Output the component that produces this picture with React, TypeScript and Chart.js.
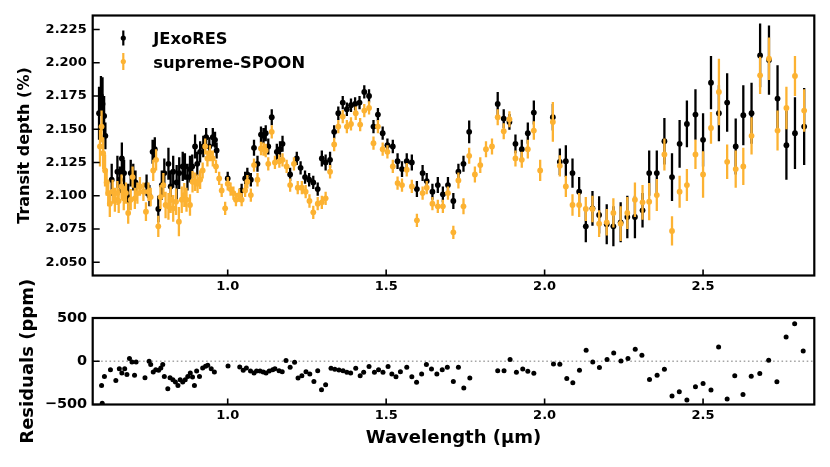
import React, { useEffect, useRef } from 'react';
import { Chart, registerables } from 'chart.js';

Chart.register(...registerables);

const FONT = "'DejaVu Sans', sans-serif";

// axis ranges and ticks
const X_MIN = 0.574;
const X_MAX = 2.851;
const X_TICKS = [1.0, 1.5, 2.0, 2.5];
const DEPTH_MIN = 2.04;
const DEPTH_MAX = 2.2355;
const DEPTH_TICKS = [2.05, 2.075, 2.1, 2.125, 2.15, 2.175, 2.2, 2.225];
const RES_MIN = -500;
const RES_MAX = 500;
const RES_TICKS = [-500, 0, 500];
const RES_ZERO = 0;

const SERIES_LABELS = ['JExoRES', 'supreme-SPOON'];

// [wavelength (um), transit depth (%), error (%)]
const JEXORES: [number, number, number][] = [
  [0.594, 2.162, 0.02], [0.6, 2.175, 0.015], [0.605, 2.169, 0.02], [0.61, 2.16, 0.015], [0.614, 2.145, 0.01],
  [0.634, 2.112, 0.012], [0.652, 2.118, 0.012], [0.66, 2.112, 0.01], [0.666, 2.128, 0.012], [0.673, 2.117, 0.01],
  [0.686, 2.099, 0.01], [0.694, 2.117, 0.01], [0.702, 2.114, 0.01], [0.709, 2.11, 0.009], [0.744, 2.108, 0.008],
  [0.753, 2.1, 0.008], [0.763, 2.133, 0.009], [0.77, 2.135, 0.009], [0.781, 2.09, 0.01], [0.792, 2.108, 0.011],
  [0.8, 2.117, 0.011], [0.813, 2.124, 0.012], [0.82, 2.107, 0.012], [0.828, 2.118, 0.012], [0.839, 2.11, 0.013],
  [0.847, 2.117, 0.012], [0.858, 2.122, 0.011], [0.865, 2.122, 0.01], [0.873, 2.114, 0.01], [0.881, 2.12, 0.01],
  [0.888, 2.122, 0.009], [0.897, 2.137, 0.009], [0.904, 2.124, 0.009], [0.913, 2.133, 0.008], [0.923, 2.137, 0.008],
  [0.932, 2.144, 0.007], [0.942, 2.137, 0.007], [0.953, 2.144, 0.007], [0.96, 2.142, 0.006], [0.965, 2.134, 0.006],
  [1.0, 2.113, 0.005], [1.044, 2.104, 0.005], [1.055, 2.113, 0.005], [1.062, 2.116, 0.005], [1.073, 2.112, 0.005],
  [1.083, 2.136, 0.006], [1.094, 2.124, 0.006], [1.105, 2.146, 0.006], [1.113, 2.145, 0.006], [1.12, 2.147, 0.006],
  [1.128, 2.137, 0.006], [1.139, 2.159, 0.006], [1.155, 2.133, 0.006], [1.165, 2.135, 0.006], [1.173, 2.139, 0.006],
  [1.197, 2.116, 0.005], [1.218, 2.128, 0.005], [1.23, 2.121, 0.005], [1.244, 2.114, 0.005], [1.257, 2.112, 0.005],
  [1.27, 2.11, 0.005], [1.284, 2.105, 0.005], [1.297, 2.128, 0.006], [1.309, 2.125, 0.006], [1.323, 2.127, 0.006],
  [1.336, 2.148, 0.005], [1.349, 2.162, 0.005], [1.363, 2.17, 0.005], [1.376, 2.165, 0.005], [1.389, 2.168, 0.005],
  [1.402, 2.169, 0.005], [1.416, 2.17, 0.005], [1.431, 2.178, 0.005], [1.446, 2.175, 0.005], [1.46, 2.152, 0.005],
  [1.474, 2.161, 0.005], [1.489, 2.147, 0.005], [1.504, 2.138, 0.005], [1.521, 2.137, 0.005], [1.536, 2.126, 0.006],
  [1.55, 2.12, 0.006], [1.565, 2.126, 0.006], [1.581, 2.125, 0.006], [1.597, 2.105, 0.006], [1.615, 2.117, 0.006],
  [1.628, 2.111, 0.006], [1.646, 2.103, 0.006], [1.663, 2.108, 0.006], [1.679, 2.101, 0.006], [1.695, 2.108, 0.006],
  [1.712, 2.096, 0.006], [1.728, 2.118, 0.006], [1.744, 2.124, 0.006], [1.762, 2.148, 0.0085], [1.852, 2.169, 0.009],
  [1.871, 2.158, 0.007], [1.889, 2.1555, 0.006], [1.908, 2.139, 0.007], [1.928, 2.135, 0.007], [1.947, 2.147, 0.008],
  [1.966, 2.1625, 0.009], [2.026, 2.159, 0.01], [2.048, 2.1255, 0.01], [2.067, 2.126, 0.012], [2.088, 2.117, 0.011],
  [2.109, 2.103, 0.011], [2.13, 2.077, 0.012], [2.151, 2.0905, 0.013], [2.172, 2.0855, 0.014], [2.196, 2.0785, 0.015],
  [2.217, 2.077, 0.015], [2.24, 2.08, 0.015], [2.261, 2.084, 0.016], [2.285, 2.084, 0.016], [2.309, 2.089, 0.013],
  [2.33, 2.117, 0.017], [2.354, 2.117, 0.017], [2.378, 2.141, 0.0175], [2.402, 2.114, 0.018], [2.426, 2.139, 0.018],
  [2.449, 2.154, 0.0175], [2.476, 2.161, 0.019], [2.5, 2.142, 0.02], [2.525, 2.185, 0.02], [2.55, 2.162, 0.021],
  [2.576, 2.17, 0.022], [2.603, 2.137, 0.021], [2.627, 2.1605, 0.0225], [2.653, 2.162, 0.023], [2.68, 2.2055, 0.024],
  [2.708, 2.202, 0.026], [2.735, 2.173, 0.025], [2.763, 2.138, 0.026], [2.79, 2.147, 0.027], [2.819, 2.152, 0.029],
];

const SPOON: [number, number, number][] = [
  [0.597, 2.137, 0.015], [0.602, 2.152, 0.012], [0.607, 2.132, 0.012], [0.613, 2.119, 0.012], [0.618, 2.11, 0.01],
  [0.623, 2.102, 0.01], [0.628, 2.094, 0.01], [0.637, 2.103, 0.009], [0.644, 2.097, 0.009], [0.652, 2.102, 0.009],
  [0.656, 2.096, 0.009], [0.665, 2.107, 0.009], [0.672, 2.098, 0.009], [0.679, 2.102, 0.008], [0.686, 2.087, 0.008],
  [0.694, 2.097, 0.008], [0.7, 2.114, 0.008], [0.707, 2.098, 0.008], [0.715, 2.102, 0.008], [0.723, 2.107, 0.007],
  [0.734, 2.103, 0.007], [0.742, 2.088, 0.007], [0.75, 2.103, 0.007], [0.757, 2.099, 0.007], [0.765, 2.119, 0.008],
  [0.774, 2.127, 0.008], [0.781, 2.077, 0.008], [0.788, 2.099, 0.009], [0.797, 2.108, 0.009], [0.804, 2.093, 0.01],
  [0.813, 2.092, 0.01], [0.82, 2.097, 0.01], [0.828, 2.0905, 0.01], [0.837, 2.0955, 0.01], [0.846, 2.0805, 0.011],
  [0.855, 2.097, 0.01], [0.863, 2.1005, 0.009], [0.87, 2.097, 0.009], [0.881, 2.093, 0.008], [0.889, 2.1105, 0.008],
  [0.897, 2.1105, 0.007], [0.905, 2.109, 0.007], [0.913, 2.112, 0.007], [0.921, 2.119, 0.006], [0.929, 2.137, 0.006],
  [0.936, 2.128, 0.006], [0.944, 2.132, 0.006], [0.953, 2.128, 0.006], [0.963, 2.122, 0.005], [0.973, 2.113, 0.005],
  [0.981, 2.104, 0.005], [0.992, 2.0905, 0.005], [1.0, 2.109, 0.005], [1.009, 2.105, 0.005], [1.018, 2.102, 0.005],
  [1.026, 2.097, 0.005], [1.036, 2.1005, 0.005], [1.044, 2.097, 0.005], [1.055, 2.104, 0.005], [1.062, 2.1105, 0.005],
  [1.073, 2.1005, 0.005], [1.083, 2.123, 0.005], [1.094, 2.112, 0.005], [1.105, 2.1355, 0.005], [1.113, 2.135, 0.005],
  [1.12, 2.134, 0.005], [1.128, 2.124, 0.005], [1.139, 2.148, 0.005], [1.149, 2.125, 0.005], [1.163, 2.126, 0.005],
  [1.173, 2.127, 0.005], [1.186, 2.122, 0.005], [1.197, 2.108, 0.005], [1.209, 2.124, 0.005], [1.221, 2.106, 0.005],
  [1.234, 2.106, 0.005], [1.246, 2.103, 0.005], [1.258, 2.096, 0.005], [1.27, 2.0875, 0.005], [1.284, 2.094, 0.005],
  [1.297, 2.095, 0.005], [1.309, 2.098, 0.005], [1.323, 2.118, 0.005], [1.336, 2.1385, 0.005], [1.349, 2.152, 0.005],
  [1.363, 2.1595, 0.005], [1.376, 2.152, 0.005], [1.389, 2.154, 0.005], [1.404, 2.162, 0.005], [1.418, 2.1535, 0.005],
  [1.431, 2.164, 0.005], [1.446, 2.166, 0.005], [1.46, 2.1395, 0.005], [1.474, 2.152, 0.005], [1.489, 2.135, 0.005],
  [1.504, 2.133, 0.005], [1.521, 2.122, 0.005], [1.536, 2.1095, 0.005], [1.55, 2.108, 0.005], [1.565, 2.1195, 0.005],
  [1.581, 2.107, 0.005], [1.597, 2.0815, 0.005], [1.615, 2.102, 0.005], [1.628, 2.106, 0.005], [1.646, 2.094, 0.005],
  [1.663, 2.092, 0.005], [1.679, 2.092, 0.005], [1.695, 2.102, 0.005], [1.712, 2.0725, 0.005], [1.728, 2.1115, 0.006],
  [1.744, 2.092, 0.006], [1.762, 2.13, 0.006], [1.78, 2.116, 0.006], [1.797, 2.123, 0.006], [1.815, 2.135, 0.006],
  [1.834, 2.137, 0.006], [1.852, 2.159, 0.006], [1.871, 2.1485, 0.006], [1.889, 2.1575, 0.006], [1.908, 2.128, 0.006],
  [1.928, 2.127, 0.006], [1.947, 2.135, 0.007], [1.966, 2.149, 0.007], [1.986, 2.119, 0.008], [2.026, 2.1555, 0.015],
  [2.048, 2.1225, 0.008], [2.067, 2.107, 0.008], [2.088, 2.093, 0.008], [2.109, 2.093, 0.009], [2.13, 2.09, 0.009],
  [2.151, 2.09, 0.01], [2.172, 2.079, 0.01], [2.196, 2.08, 0.01], [2.217, 2.087, 0.011], [2.24, 2.079, 0.013],
  [2.261, 2.087, 0.012], [2.285, 2.097, 0.013], [2.309, 2.095, 0.013], [2.33, 2.0955, 0.014], [2.354, 2.1005, 0.012],
  [2.378, 2.131, 0.012], [2.402, 2.0735, 0.011], [2.426, 2.103, 0.012], [2.449, 2.108, 0.012], [2.476, 2.131, 0.011],
  [2.5, 2.116, 0.0175], [2.525, 2.151, 0.012], [2.55, 2.178, 0.025], [2.576, 2.1255, 0.013], [2.603, 2.12, 0.014],
  [2.627, 2.122, 0.014], [2.653, 2.145, 0.014], [2.68, 2.1905, 0.014], [2.708, 2.203, 0.016], [2.735, 2.149, 0.015],
  [2.763, 2.166, 0.016], [2.79, 2.19, 0.015], [2.819, 2.164, 0.016],
];

// [wavelength (um), residual (ppm)]
const RESIDUALS: [number, number][] = [
  [0.602, -280], [0.604, -486], [0.611, -175], [0.63, -97], [0.647, -222], [0.658, -86], [0.666, -136], [0.675, -86],
  [0.682, -152], [0.69, 31], [0.698, -8], [0.706, -163], [0.711, -8], [0.739, -191], [0.752, 0], [0.757, -39],
  [0.765, -124], [0.773, -97], [0.782, -105], [0.789, -78], [0.795, -39], [0.8, -175], [0.811, -319], [0.818, -191],
  [0.827, -214], [0.835, -241], [0.843, -280], [0.85, -214], [0.858, -241], [0.866, -214], [0.874, -175], [0.882, -136],
  [0.889, -183], [0.895, -280], [0.902, -113], [0.911, -175], [0.921, -78], [0.93, -58], [0.937, -47], [0.948, -86],
  [0.958, -124], [1.001, -54], [1.038, -66], [1.049, -105], [1.059, -78], [1.072, -113], [1.083, -136], [1.091, -113],
  [1.102, -113], [1.112, -124], [1.121, -136], [1.131, -113], [1.142, -97], [1.149, -86], [1.162, -110], [1.172, -120],
  [1.184, 8], [1.197, -70], [1.211, -12], [1.222, -194], [1.234, -167], [1.247, -120], [1.259, -147], [1.272, -233],
  [1.284, -109], [1.296, -329], [1.309, -271], [1.326, -81], [1.338, -93], [1.351, -101], [1.364, -109], [1.376, -128],
  [1.388, -136], [1.404, -81], [1.418, -167], [1.429, -128], [1.446, -62], [1.463, -128], [1.476, -97], [1.49, -128],
  [1.506, -62], [1.518, -147], [1.531, -178], [1.545, -120], [1.565, -70], [1.581, -178], [1.596, -244], [1.612, -147],
  [1.627, -39], [1.643, -89], [1.66, -147], [1.677, -97], [1.693, -70], [1.712, -233], [1.728, -70], [1.745, -310],
  [1.764, -194], [1.852, -109], [1.872, -109], [1.891, 19], [1.911, -128], [1.931, -89], [1.947, -116], [1.966, -140],
  [2.028, -31], [2.048, -35], [2.07, -199], [2.089, -249], [2.11, -103], [2.131, 126], [2.152, -8], [2.173, -73],
  [2.197, 19], [2.218, 96], [2.241, 4], [2.263, 31], [2.286, 138], [2.307, 69], [2.331, -211], [2.355, -161],
  [2.378, -92], [2.402, -402], [2.425, -352], [2.449, -448], [2.476, -295], [2.5, -257], [2.525, -333], [2.549, 165],
  [2.576, -437], [2.6, -169], [2.626, -383], [2.652, -172], [2.679, -142], [2.707, 11], [2.733, -237], [2.762, 280],
  [2.789, 433], [2.816, 119],
];

const BLACK = '#000000';
const ORANGE = '#fcb232';

const errorBarsPlugin = {
  id: 'errorBars',
  beforeDatasetDraw(chart: any, args: any) {
    const ds = chart.data.datasets[args.index];
    if (!ds.errors) return;
    const { ctx, chartArea: a } = chart;
    const xs = chart.scales.x;
    const ys = chart.scales.y;
    ctx.save();
    ctx.beginPath();
    ctx.rect(a.left, a.top, a.right - a.left, a.bottom - a.top);
    ctx.clip();
    ctx.strokeStyle = ds.errorColor;
    ctx.lineWidth = ds.errorWidth;
    ctx.lineCap = 'butt';
    ctx.beginPath();
    ds.data.forEach((p: any, i: number) => {
      const e = ds.errors[i];
      const px = xs.getPixelForValue(p.x);
      ctx.moveTo(px, ys.getPixelForValue(p.y - e));
      ctx.lineTo(px, ys.getPixelForValue(p.y + e));
    });
    ctx.stroke();
    ctx.restore();
  },
};

const framePlugin = {
  id: 'frameTicks',
  afterDatasetsDraw(chart: any) {
    const { ctx, chartArea: a } = chart;
    const xs = chart.scales.x;
    const ys = chart.scales.y;
    ctx.save();
    ctx.strokeStyle = '#000';
    ctx.lineWidth = 1.6;
    ctx.beginPath();
    xs.ticks.forEach((t: any) => {
      const px = xs.getPixelForValue(t.value);
      ctx.moveTo(px, a.bottom);
      ctx.lineTo(px, a.bottom - 6);
    });
    ys.ticks.forEach((t: any) => {
      const py = ys.getPixelForValue(t.value);
      ctx.moveTo(a.left, py);
      ctx.lineTo(a.left + 7, py);
    });
    ctx.stroke();
    ctx.lineWidth = 2.2;
    ctx.strokeRect(a.left, a.top, a.right - a.left, a.bottom - a.top);
    ctx.restore();
  },
};

const legendPlugin = {
  id: 'errLegend',
  afterDraw(chart: any) {
    const opts = chart.options.plugins.errLegend;
    if (!opts || !opts.show) return;
    const { ctx, chartArea: a } = chart;
    ctx.save();
    chart.data.datasets.forEach((ds: any, i: number) => {
      if (!ds.label) return;
      const cx = a.left + 30.6;
      const cy = a.top + 22.5 + i * 23.5;
      ctx.strokeStyle = ds.errorColor;
      ctx.lineWidth = 2.2;
      ctx.beginPath();
      ctx.moveTo(cx, cy - 7.5 - i);
      ctx.lineTo(cx, cy + 7.5 + i);
      ctx.stroke();
      ctx.fillStyle = ds.backgroundColor;
      ctx.beginPath();
      ctx.arc(cx, cy, 2.6, 0, Math.PI * 2);
      ctx.fill();
      ctx.fillStyle = '#000';
      ctx.font = `bold 16.3px ${FONT}`;
      ctx.textAlign = 'left';
      ctx.textBaseline = 'alphabetic';
      ctx.fillText(ds.label, a.left + 60.6, a.top + 28.8 + i * 24);
    });
    ctx.restore();
  },
};

const tickFont = (size: number) => ({ family: FONT, size, weight: 'bold' as const });

function fixTicks(values: number[]) {
  return (scale: any) => {
    scale.ticks = values.map((v) => ({ value: v }));
  };
}

const NO_GRID = { display: false, drawTicks: false, tickLength: 0 };

export default function App() {
  const topRef = useRef<HTMLCanvasElement>(null);
  const botRef = useRef<HTMLCanvasElement>(null);

  useEffect(() => {
    const top = new Chart(topRef.current as HTMLCanvasElement, {
      type: 'scatter',
      data: {
        datasets: [
          {
            label: SERIES_LABELS[0],
            data: JEXORES.map(([x, y]) => ({ x, y })),
            errors: JEXORES.map((p) => p[2]),
            errorColor: BLACK,
            errorWidth: 2.3,
            backgroundColor: BLACK,
            borderWidth: 0,
            pointRadius: 2.9,
            order: 2,
          } as any,
          {
            label: SERIES_LABELS[1],
            data: SPOON.map(([x, y]) => ({ x, y })),
            errors: SPOON.map((p) => p[2]),
            errorColor: ORANGE,
            errorWidth: 2.3,
            backgroundColor: ORANGE,
            borderWidth: 0,
            pointRadius: 2.9,
            order: 1,
          } as any,
        ],
      },
      options: {
        animation: false,
        responsive: false,
        events: [],
        layout: { padding: { left: 0, right: 15.7, top: 15.5, bottom: 0 } },
        plugins: {
          legend: { display: false },
          tooltip: { enabled: false },
          errLegend: { show: true },
        } as any,
        scales: {
          x: {
            type: 'linear',
            min: X_MIN,
            max: X_MAX,
            afterBuildTicks: fixTicks(X_TICKS),
            afterFit: (s: any) => {
              s.height = 24.5;
            },
            grid: NO_GRID,
            border: { display: false },
            ticks: {
              font: tickFont(13),
              color: '#000',
              padding: 3,
              maxRotation: 0,
              autoSkip: false,
              callback: (v: any) => Number(v).toFixed(1),
            },
          },
          y: {
            type: 'linear',
            min: DEPTH_MIN,
            max: DEPTH_MAX,
            afterBuildTicks: fixTicks(DEPTH_TICKS),
            afterFit: (s: any) => {
              s.width = 92.7;
            },
            grid: NO_GRID,
            border: { display: false },
            ticks: {
              font: tickFont(13),
              color: '#000',
              padding: 6,
              autoSkip: false,
              callback: (v: any) => Number(v).toFixed(3),
            },
            title: {
              display: true,
              text: 'Transit depth (%)',
              color: '#000',
              font: { family: FONT, size: 16, weight: 'bold' },
              padding: { top: 15, bottom: 0 },
            },
          },
        },
      },
      plugins: [errorBarsPlugin, framePlugin, legendPlugin],
    } as any);

    const bot = new Chart(botRef.current as HTMLCanvasElement, {
      type: 'scatter',
      data: {
        datasets: [
          {
            type: 'line',
            label: '',
            data: [
              { x: X_MIN, y: RES_ZERO },
              { x: X_MAX, y: RES_ZERO },
            ],
            borderColor: '#a6a6a6',
            borderWidth: 1.6,
            borderDash: [1.6, 2.6],
            pointRadius: 0,
            fill: false,
            order: 2,
          } as any,
          {
            label: 'Residuals',
            data: RESIDUALS.map(([x, y]) => ({ x, y })),
            backgroundColor: BLACK,
            borderWidth: 0,
            pointRadius: 2.5,
            order: 1,
          } as any,
        ],
      },
      options: {
        animation: false,
        responsive: false,
        events: [],
        layout: { padding: { left: 0, right: 15.7, top: 68, bottom: 0 } },
        plugins: {
          legend: { display: false },
          tooltip: { enabled: false },
        },
        scales: {
          x: {
            type: 'linear',
            min: X_MIN,
            max: X_MAX,
            afterBuildTicks: fixTicks(X_TICKS),
            afterFit: (s: any) => {
              s.height = 62.5;
            },
            grid: NO_GRID,
            border: { display: false },
            ticks: {
              font: tickFont(13),
              color: '#000',
              padding: 3,
              maxRotation: 0,
              autoSkip: false,
              callback: (v: any) => Number(v).toFixed(1),
            },
            title: {
              display: true,
              text: 'Wavelength (μm)',
              color: '#000',
              font: { family: FONT, size: 18, weight: 'bold' },
              padding: { top: 0, bottom: 17.5 },
            },
          },
          y: {
            type: 'linear',
            min: RES_MIN,
            max: RES_MAX,
            afterBuildTicks: fixTicks(RES_TICKS),
            afterFit: (s: any) => {
              s.width = 92.7;
            },
            grid: NO_GRID,
            border: { display: false },
            ticks: {
              font: tickFont(14.5),
              color: '#000',
              padding: 5.5,
              autoSkip: false,
              callback: (v: any) => (Number(v) < 0 ? '\u2212' + Math.abs(Number(v)) : String(v)),
            },
            title: {
              display: true,
              text: 'Residuals (ppm)',
              color: '#000',
              font: { family: FONT, size: 18, weight: 'bold' },
              padding: { top: 18, bottom: 0 },
            },
          },
        },
      },
      plugins: [framePlugin],
    } as any);

    return () => {
      top.destroy();
      bot.destroy();
    };
  }, []);

  return (
    <div style={{ position: 'absolute', left: 0, top: 0, width: 830, height: 467, background: '#ffffff' }}>
      <canvas
        ref={topRef}
        width={830}
        height={300}
        style={{ position: 'absolute', left: 0, top: 0, width: 830, height: 300 }}
      />
      <canvas
        ref={botRef}
        width={830}
        height={217}
        style={{ position: 'absolute', left: 0, top: 250, width: 830, height: 217 }}
      />
    </div>
  );
}
